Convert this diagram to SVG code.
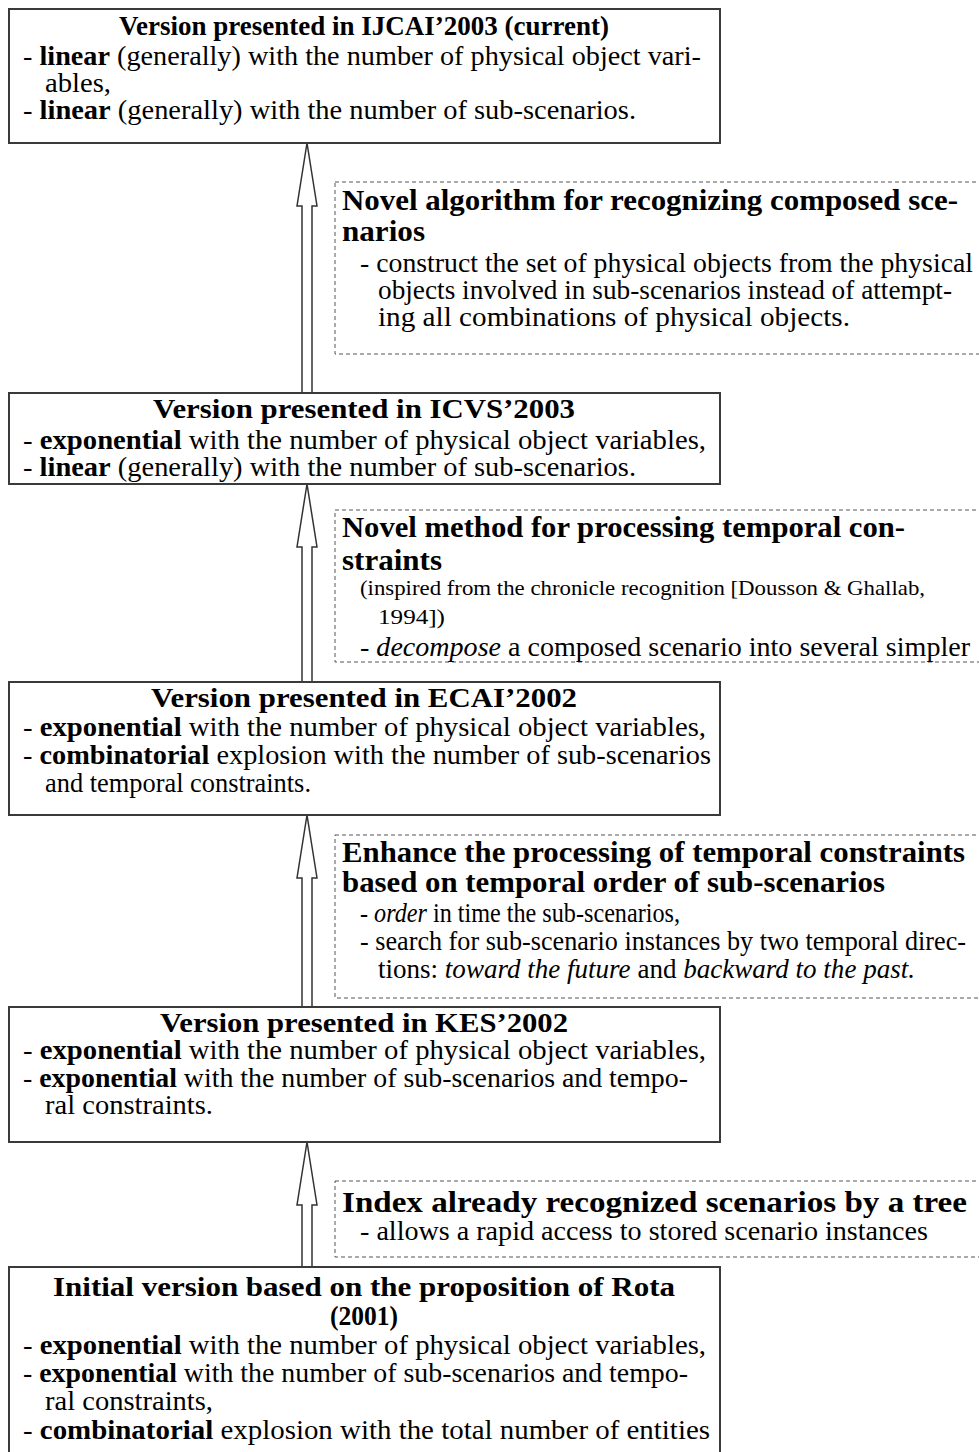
<svg xmlns="http://www.w3.org/2000/svg" width="979" height="1452" viewBox="0 0 979 1452">
<style>
text{font-family:"Liberation Serif","Times New Roman",serif;fill:#000}
.t{font-size:27px;font-weight:bold;text-anchor:middle}
.h{font-size:29px;font-weight:bold}
.n{font-size:27px}
.s{font-size:21px}
.b{font-weight:bold}
.i{font-style:italic}
.box{fill:#fff;stroke:#3a3a3a;stroke-width:2}
.dash{fill:none;stroke:#555;stroke-width:1;stroke-dasharray:4 3}
.arr{fill:#fff;stroke:#333;stroke-width:1.5;stroke-linejoin:miter}
</style>
<g id="connectors">
<path class="arr" d="M302,393 L302,206 L297,206 L307,143 L317,206 L312,206 L312,393"/>
<path class="arr" d="M302,682 L302,547 L297,547 L307,484 L317,547 L312,547 L312,682"/>
<path class="arr" d="M302,1007 L302,878 L297,878 L307,815 L317,878 L312,878 L312,1007"/>
<path class="arr" d="M302,1267 L302,1205 L297,1205 L307,1142 L317,1205 L312,1205 L312,1267"/>
</g>
<g id="ijcai2003">
<rect class="box" x="9" y="9" width="711" height="134"/>
<text class="t" x="364" y="35" textLength="490" lengthAdjust="spacingAndGlyphs">Version presented in IJCAI’2003 (current)</text>
<text class="n" x="23" y="65" textLength="678" lengthAdjust="spacingAndGlyphs">- <tspan class="b">linear</tspan> (generally) with the number of physical object vari-</text>
<text class="n" x="45" y="92" textLength="66" lengthAdjust="spacingAndGlyphs">ables,</text>
<text class="n" x="23" y="119" textLength="613" lengthAdjust="spacingAndGlyphs">- <tspan class="b">linear</tspan> (generally) with the number of sub-scenarios.</text>
</g>
<g id="note1">
<rect class="dash" x="335" y="182" width="660" height="172"/>
<text class="h" x="342" y="210" textLength="616" lengthAdjust="spacingAndGlyphs">Novel algorithm for recognizing composed sce-</text>
<text class="h" x="342" y="241" textLength="83" lengthAdjust="spacingAndGlyphs">narios</text>
<text class="n" x="360" y="272" textLength="613" lengthAdjust="spacingAndGlyphs">- construct the set of physical objects from the physical</text>
<text class="n" x="378" y="299" textLength="574" lengthAdjust="spacingAndGlyphs">objects involved in sub-scenarios instead of attempt-</text>
<text class="n" x="378" y="326" textLength="472" lengthAdjust="spacingAndGlyphs">ing all combinations of physical objects.</text>
</g>
<g id="icvs2003">
<rect class="box" x="9" y="393" width="711" height="91"/>
<text class="t" x="364" y="418" textLength="422" lengthAdjust="spacingAndGlyphs">Version presented in ICVS’2003</text>
<text class="n" x="23" y="449" textLength="683" lengthAdjust="spacingAndGlyphs">- <tspan class="b">exponential</tspan> with the number of physical object variables,</text>
<text class="n" x="23" y="476" textLength="613" lengthAdjust="spacingAndGlyphs">- <tspan class="b">linear</tspan> (generally) with the number of sub-scenarios.</text>
</g>
<g id="note2">
<rect class="dash" x="335" y="510" width="660" height="152"/>
<text class="h" x="342" y="537" textLength="563" lengthAdjust="spacingAndGlyphs">Novel method for processing temporal con-</text>
<text class="h" x="342" y="570" textLength="100" lengthAdjust="spacingAndGlyphs">straints</text>
<text class="s" x="360" y="595" textLength="565" lengthAdjust="spacingAndGlyphs">(inspired from the chronicle recognition [Dousson &amp; Ghallab,</text>
<text class="s" x="378" y="624" textLength="67" lengthAdjust="spacingAndGlyphs">1994])</text>
<text class="n" x="360" y="656" textLength="610" lengthAdjust="spacingAndGlyphs">- <tspan class="i">decompose</tspan> a composed scenario into several simpler</text>
</g>
<g id="ecai2002">
<rect class="box" x="9" y="682" width="711" height="133"/>
<text class="t" x="364" y="707" textLength="426" lengthAdjust="spacingAndGlyphs">Version presented in ECAI’2002</text>
<text class="n" x="23" y="736" textLength="683" lengthAdjust="spacingAndGlyphs">- <tspan class="b">exponential</tspan> with the number of physical object variables,</text>
<text class="n" x="23" y="764" textLength="688" lengthAdjust="spacingAndGlyphs">- <tspan class="b">combinatorial</tspan> explosion with the number of sub-scenarios</text>
<text class="n" x="45" y="792" textLength="266" lengthAdjust="spacingAndGlyphs">and temporal constraints.</text>
</g>
<g id="note3">
<rect class="dash" x="335" y="835" width="660" height="163"/>
<text class="h" x="342" y="862" textLength="623" lengthAdjust="spacingAndGlyphs">Enhance the processing of temporal constraints</text>
<text class="h" x="342" y="892" textLength="543" lengthAdjust="spacingAndGlyphs">based on temporal order of sub-scenarios</text>
<text class="n" x="360" y="922" textLength="320" lengthAdjust="spacingAndGlyphs">- <tspan class="i">order</tspan> in time the sub-scenarios,</text>
<text class="n" x="360" y="950" textLength="606" lengthAdjust="spacingAndGlyphs">- search for sub-scenario instances by two temporal direc-</text>
<text class="n" x="378" y="978" textLength="537" lengthAdjust="spacingAndGlyphs">tions: <tspan class="i">toward the future</tspan> and <tspan class="i">backward to the past.</tspan></text>
</g>
<g id="kes2002">
<rect class="box" x="9" y="1007" width="711" height="135"/>
<text class="t" x="364" y="1032" textLength="408" lengthAdjust="spacingAndGlyphs">Version presented in KES’2002</text>
<text class="n" x="23" y="1059" textLength="683" lengthAdjust="spacingAndGlyphs">- <tspan class="b">exponential</tspan> with the number of physical object variables,</text>
<text class="n" x="23" y="1087" textLength="665" lengthAdjust="spacingAndGlyphs">- <tspan class="b">exponential</tspan> with the number of sub-scenarios and tempo-</text>
<text class="n" x="45" y="1114" textLength="168" lengthAdjust="spacingAndGlyphs">ral constraints.</text>
</g>
<g id="note4">
<rect class="dash" x="335" y="1181" width="660" height="76"/>
<text class="h" x="342" y="1212" textLength="625" lengthAdjust="spacingAndGlyphs">Index already recognized scenarios by a tree</text>
<text class="n" x="360" y="1240" textLength="568" lengthAdjust="spacingAndGlyphs">- allows a rapid access to stored scenario instances</text>
</g>
<g id="initial">
<rect class="box" x="9" y="1267" width="711" height="250"/>
<text class="t" x="364" y="1296" textLength="622" lengthAdjust="spacingAndGlyphs">Initial version based on the proposition of Rota</text>
<text class="t" x="364" y="1325" textLength="68" lengthAdjust="spacingAndGlyphs">(2001)</text>
<text class="n" x="23" y="1354" textLength="683" lengthAdjust="spacingAndGlyphs">- <tspan class="b">exponential</tspan> with the number of physical object variables,</text>
<text class="n" x="23" y="1382" textLength="665" lengthAdjust="spacingAndGlyphs">- <tspan class="b">exponential</tspan> with the number of sub-scenarios and tempo-</text>
<text class="n" x="45" y="1410" textLength="168" lengthAdjust="spacingAndGlyphs">ral constraints,</text>
<text class="n" x="23" y="1439" textLength="687" lengthAdjust="spacingAndGlyphs">- <tspan class="b">combinatorial</tspan> explosion with the total number of entities</text>
</g>
</svg>
